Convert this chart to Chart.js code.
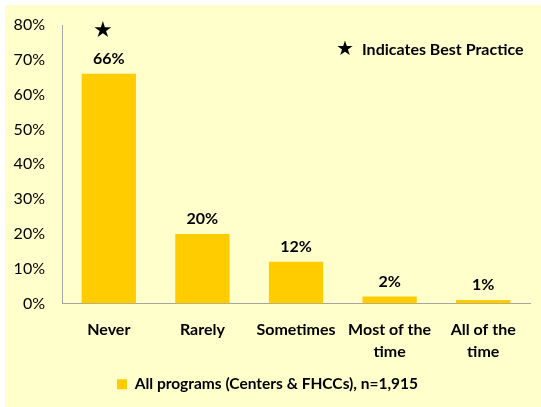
<!DOCTYPE html>
<html>
<head>
<meta charset="utf-8">
<script src="https://cdn.jsdelivr.net/npm/chart.js@4/dist/chart.umd.min.js"></script>
<style>
  html, body { margin: 0; padding: 0; background: #ffffff; }
  #wrap { position: absolute; left: 5px; top: 5px; width: 536px; height: 402px; background: #FFFFCC; }
  canvas { display: block; }
</style>
</head>
<body>
<div id="wrap"><canvas id="c" width="536" height="402"></canvas></div>
<script>
const categories = [["Never"], ["Rarely"], ["Sometimes"], ["Most of the", "time"], ["All of the", "time"]];
const values = [66, 20, 12, 2, 1];
const seriesName = "All programs (Centers & FHCCs), n=1,915";
const yTicks = [0, 10, 20, 30, 40, 50, 60, 70, 80];
const bestPracticeIndex = 0;
const noteText = "Indicates Best Practice";

const FONT = "Lato, 'Open Sans', sans-serif";

const labelPlugin = {
  id: 'labels',
  afterDatasetsDraw(chart) {
    const ctx = chart.ctx;
    const meta = chart.getDatasetMeta(0);
    ctx.save();
    ctx.fillStyle = '#000';
    ctx.textAlign = 'center';
    ctx.textBaseline = 'middle';
    ctx.font = 'bold 16px ' + FONT;
    meta.data.forEach((bar, i) => {
      ctx.fillText(values[i] + '%', bar.x, bar.y - 15);
    });
    // best practice star
    const b = meta.data[bestPracticeIndex];
    ctx.font = '22px "DejaVu Sans", sans-serif';
    ctx.fillText('\u2605', b.x - 6, chart.chartArea.top + 6);
    // note
    const ca = chart.chartArea;
    ctx.textAlign = 'left';
    ctx.font = '20px "DejaVu Sans", sans-serif';
    ctx.fillText('\u2605', ca.left + 274, ca.top + 25);
    ctx.font = 'bold 16px ' + FONT;
    ctx.fillText(noteText, ca.left + 300, ca.top + 25);
    ctx.restore();
  }
};

new Chart(document.getElementById('c'), {
  type: 'bar',
  data: {
    labels: categories,
    datasets: [{
      label: seriesName,
      data: values,
      backgroundColor: '#FFCC00',
      borderWidth: 0,
      categoryPercentage: 1,
      barPercentage: 0.58
    }]
  },
  options: {
    responsive: false,
    animation: false,
    layout: { padding: { top: 0, right: 11, bottom: 5, left: 0 } },
    plugins: {
      legend: {
        position: 'bottom',
        labels: {
          boxWidth: 10, boxHeight: 10, padding: 10,
          color: '#000',
          font: { family: FONT, size: 15.5, weight: 'bold' }
        }
      },
      tooltip: { enabled: false }
    },
    scales: {
      x: {
        grid: { display: false, drawTicks: false },
        border: { display: true, color: '#A6A6A6', width: 1 },
        ticks: {
          color: '#000', padding: 15, maxRotation: 0, autoSkip: false,
          font: { family: FONT, size: 16, weight: 'bold', lineHeight: 1.4 }
        },
        afterFit(s) { s.height = 63; }
      },
      y: {
        min: 0, max: 80,
        afterBuildTicks(s) { s.ticks = yTicks.map(v => ({ value: v })); },
        grid: { display: false, drawTicks: false },
        border: { display: true, color: '#A6A6A6', width: 1 },
        ticks: {
          color: '#000', padding: 17,
          font: { family: FONT, size: 16 },
          callback: v => v + '%'
        },
        afterFit(s) { s.width = 57; s.paddingTop = 20; s.paddingBottom = 0; }
      }
    }
  },
  plugins: [labelPlugin]
});
</script>
</body>
</html>
